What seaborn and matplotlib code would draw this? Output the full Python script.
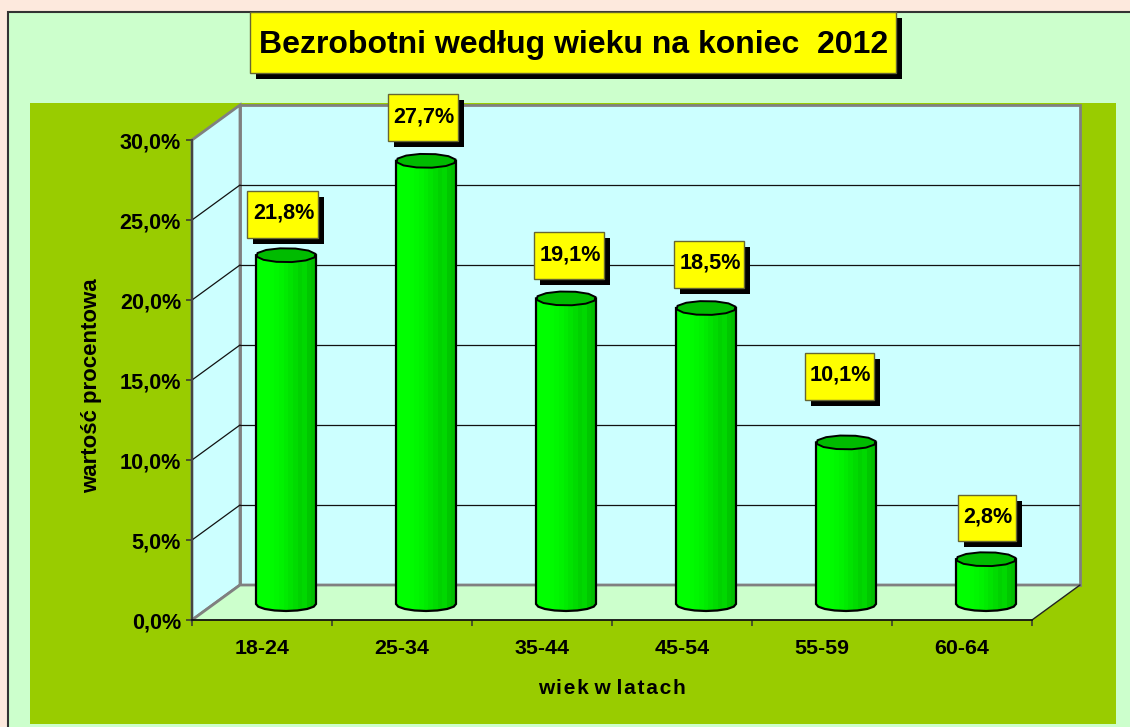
import numpy as np
import pandas as pd
import seaborn as sns
import matplotlib
matplotlib.use("Agg")
import matplotlib.pyplot as plt
from matplotlib.patches import Rectangle, Polygon

categories = ["18-24", "25-34", "35-44", "45-54", "55-59", "60-64"]
values = [21.8, 27.7, 19.1, 18.5, 10.1, 2.8]
value_labels = ["21,8%", "27,7%", "19,1%", "18,5%", "10,1%", "2,8%"]
label_boxes = [(247, 191, 71, 47), (388, 94, 70, 47), (534, 232, 70, 47),
               (674, 241, 70, 47), (805, 353, 69, 47), (958, 495, 58, 46)]
title = "Bezrobotni według wieku na koniec  2012"
y_title = "wartość procentowa"
x_title = "w\u200ai\u200ae\u200ak w l\u200aa\u200at\u200aa\u200ac\u200ah"

sns.set_theme(style="white")
plt.rcParams["font.family"] = ["Liberation Sans", "DejaVu Sans"]
plt.rcParams["font.weight"] = "bold"
W, H = 1130, 727
fig = plt.figure(figsize=(W / 100, H / 100), dpi=100, facecolor="#FDE9DD")


def px_axes(l, t, r, b, z):
    a = fig.add_axes([l / W, 1 - b / H, (r - l) / W, (b - t) / H], zorder=z)
    a.patch.set_visible(False)
    return a


# chrome layer in pixel space
bg = px_axes(0, 0, W, H, 0)
bg.set_xlim(0, W)
bg.set_ylim(H, 0)
bg.axis("off")
bg.add_patch(Rectangle((8, 12), W, H, fc="#CCFFCC", ec="#333333", lw=1.5))
bg.add_patch(Rectangle((30, 103), 1086, 621, fc="#99CC00", ec="none"))
wall_c = "#CCFFFF"
edge = "#808080"
bg.add_patch(Polygon([(240, 105), (1080, 105), (1080, 585), (240, 585)], fc=wall_c, ec=edge, lw=2))
bg.add_patch(Polygon([(192, 140), (240, 105), (240, 585), (192, 620)], fc=wall_c, ec=edge, lw=2))
bg.add_patch(Polygon([(192, 620), (240, 585), (1080, 585), (1032, 620)], fc="#CCFFCC", ec="none"))
bg.plot([192, 240, 1080], [620, 585, 585], color=edge, lw=2)
bg.plot([1080, 1032], [585, 620], color="#222222", lw=1)
for k in range(1, 6):
    yb = 585 - 80 * k
    bg.plot([240, 1079], [yb, yb], color="#111111", lw=0.9)
    bg.plot([192, 240], [yb + 35, yb], color="#111111", lw=0.9)

# front plane: real axes with ticks
ax = px_axes(192, 140, 1032, 620, 1)
ax.set_xlim(-0.5, 5.5)
ax.set_ylim(0, 30)
for s in ("top", "right"):
    ax.spines[s].set_visible(False)
ax.spines["left"].set_color("#444444")
ax.spines["left"].set_linewidth(1.5)
ax.spines["bottom"].set_color("#111111")
ax.spines["bottom"].set_linewidth(1.3)
ax.set_yticks(range(0, 31, 5))
ax.set_yticklabels([f"{v},0%" for v in range(0, 31, 5)], fontsize=15.6, fontweight="bold", color="black")
ax.set_xticks(np.arange(-0.5, 6, 1))
ax.set_xticklabels([])
ax.set_xticks(range(6), labels=categories, minor=True, fontsize=15.4, fontweight="bold", color="black")
ax.tick_params(axis="both", which="major", length=4.3, width=1.1, color="#333333", left=True, bottom=True, pad=3.6)
ax.tick_params(axis="x", which="minor", length=0, pad=14)
fig.text(612 / W, 1 - 688 / H, x_title, ha="center", va="center", fontsize=15, fontweight="bold", color="black")
fig.text(92 / W, 1 - 386 / H, y_title, rotation=90, ha="center", va="center", fontsize=16, fontweight="bold", color="black")

# bars, set back half a depth behind the front plane
bx = px_axes(216, 124, 1056, 604, 2)
df = pd.DataFrame({"wiek": categories, "udzial": values})
sns.barplot(data=df, x="wiek", y="udzial", ax=bx, width=60 / 140, color="#00EE00", saturation=1)
bx.set_xlim(-0.5, 5.5)
bx.set_ylim(0, 30)
bx.axis("off")
ry = 7 / 16
shades = np.array([0, 0, 0, 0.05, 0.12, 0.2, 0.3, 0.42, 0.55, 0.7, 0.6, 0.85, 1.0])
base = np.array([0, 255, 0])
dark = np.array([0, 190, 0])
grad = np.array([[(base + (dark - base) * s) / 255 for s in shades]])
for bar in list(bx.patches):
    x0, w, h = bar.get_x(), bar.get_width(), bar.get_height()
    x1 = x0 + w
    c = x0 + w / 2
    a = np.linspace(np.pi, 0, 9)
    bottom = list(zip(c + w / 2 * np.cos(a), -ry * np.sin(a)))
    outline = [(x0, h)] + bottom + [(x1, h)]
    bar.set_visible(False)
    body = Polygon(outline, closed=True, fc="none", ec="black", lw=1.6, zorder=4, clip_on=False)
    bx.add_patch(body)
    im = bx.imshow(grad, extent=(x0, x1, -ry, h), aspect="auto", zorder=3, interpolation="nearest")
    im.set_clip_box(fig.bbox)
    im.set_clip_path(body.get_path(), body.get_transform())
    a2 = np.linspace(0, 2 * np.pi, 13)[:-1] + 0.2
    bx.add_patch(Polygon(list(zip(c + w / 2 * np.cos(a2), h + ry * np.sin(a2))), closed=True,
                         fc="#00BB00", ec="black", lw=1.4, zorder=5, clip_on=False))
bx.set_xlim(-0.5, 5.5)
bx.set_ylim(0, 30)

# title and value callouts
top = px_axes(0, 0, W, H, 3)
top.set_xlim(0, W)
top.set_ylim(H, 0)
top.axis("off")


def callout(x, y, w, h, s, size, shadow, dy=-1, dx=0):
    top.add_patch(Rectangle((x + shadow, y + shadow), w, h, fc="black", ec="none"))
    top.add_patch(Rectangle((x, y), w, h, fc="#FFFF00", ec="#666633", lw=1))
    top.text(x + w / 2 + dx, y + h / 2 + dy, s, ha="center", va="center", fontsize=size, fontweight="bold", color="black")


callout(250, 12, 646, 61, title, 23, 6, dy=2, dx=1)
for (x, y, w, h), s in zip(label_boxes, value_labels):
    callout(x, y, w, h, s, 15.6, 6, dy=-1, dx=1)

fig.savefig("out.png", dpi=100, facecolor=fig.get_facecolor())
